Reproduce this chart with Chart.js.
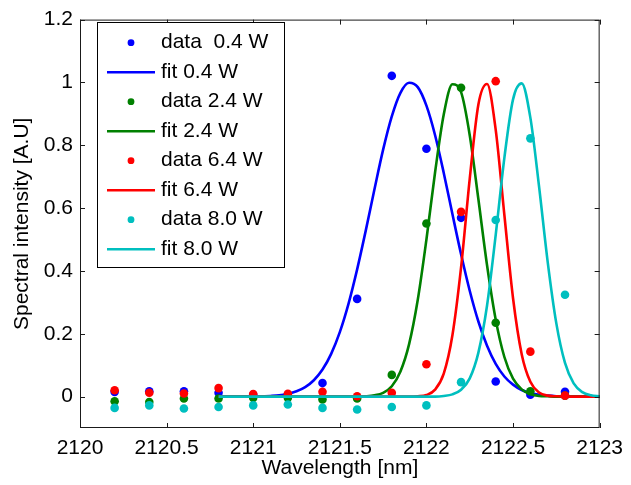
<!DOCTYPE html>
<html lang="en">
<head>
<meta charset="UTF-8">
<title>Spectral intensity</title>
<script src="https://cdn.jsdelivr.net/npm/chart.js@4/dist/chart.umd.min.js"></script>
<style>
  body { margin: 0; background: #fff; }
  #wrap { width: 631px; height: 485px; }
</style>
</head>
<body>
<div id="wrap"><canvas id="spectra" width="631" height="485"></canvas></div>
<script>
// measured spectra, one sample every 0.2 nm
const wavelength = [2120.2, 2120.4, 2120.6, 2120.8, 2121.0, 2121.2, 2121.4, 2121.6, 2121.8, 2122.0, 2122.2, 2122.4, 2122.6, 2122.8];
const data04 = [0.015, 0.017, 0.017, 0.012, 0.006, 0.006, 0.043, 0.311, 1.021, 0.789, 0.569, 0.048, 0.006, 0.015];
const data24 = [-0.015, -0.017, -0.006, -0.006, -0.004, -0.004, -0.009, -0.006, 0.069, 0.551, 0.983, 0.235, 0.017, 0.003];
const data64 = [0.020, 0.012, 0.010, 0.027, 0.008, 0.009, 0.015, 0.001, 0.012, 0.103, 0.588, 1.004, 0.143, 0.003];
const data80 = [-0.036, -0.028, -0.038, -0.033, -0.028, -0.025, -0.036, -0.041, -0.033, -0.028, 0.046, 0.562, 0.822, 0.324];

// fitted line shapes, sampled every 0.05 nm
const fitWavelength = [
  2120.80, 2120.85, 2120.90, 2120.95, 2121.00, 2121.05, 2121.10, 2121.15, 2121.20, 2121.25,
  2121.30, 2121.35, 2121.40, 2121.45, 2121.50, 2121.55, 2121.60, 2121.65, 2121.70, 2121.75,
  2121.80, 2121.85, 2121.90, 2121.95, 2122.00, 2122.05, 2122.10, 2122.15, 2122.20, 2122.25,
  2122.30, 2122.35, 2122.40, 2122.45, 2122.50, 2122.55, 2122.60, 2122.65, 2122.70, 2122.75,
  2122.80, 2122.85, 2122.90, 2122.95, 2123.00
];
const fit04 = [
  0, 0, 0, 0, 0, 0.001, 0.002, 0.004, 0.009, 0.017,
  0.030, 0.052, 0.086, 0.136, 0.205, 0.295, 0.405, 0.529, 0.660, 0.786,
  0.892, 0.967, 0.999, 0.985, 0.926, 0.832, 0.712, 0.581, 0.453, 0.337,
  0.239, 0.162, 0.104, 0.064, 0.038, 0.021, 0.011, 0.006, 0.003, 0.001,
  0, 0, 0, 0, 0
];
const fit24 = [
  0, 0, 0, 0, 0, 0, 0, 0, 0, 0,
  0, 0, 0, 0, 0, 0, 0, 0.001, 0.004, 0.012,
  0.033, 0.080, 0.167, 0.308, 0.500, 0.714, 0.898, 0.994, 0.969, 0.832,
  0.628, 0.418, 0.245, 0.126, 0.057, 0.023, 0.008, 0.002, 0.001, 0,
  0, 0, 0, 0, 0
];
const fit64 = [
  0, 0, 0, 0, 0, 0, 0, 0, 0, 0,
  0, 0, 0, 0, 0, 0, 0, 0, 0, 0,
  0, 0, 0, 0.001, 0.005, 0.022, 0.073, 0.195, 0.411, 0.693,
  0.930, 0.995, 0.849, 0.578, 0.313, 0.135, 0.047, 0.013, 0.003, 0.001,
  0, 0, 0, 0, 0
];
const fit80 = [
  0, 0, 0, 0, 0, 0, 0, 0, 0, 0,
  0, 0, 0, 0, 0, 0, 0, 0, 0, 0,
  0, 0, 0, 0, 0, 0, 0.002, 0.007, 0.022, 0.058,
  0.140, 0.290, 0.515, 0.760, 0.946, 0.997, 0.888, 0.670, 0.429, 0.233,
  0.107, 0.042, 0.014, 0.004, 0.001
];

const powers = ['0.4 W', '2.4 W', '6.4 W', '8.0 W'];
const dataLabels = ['data  0.4 W', 'data 2.4 W', 'data 6.4 W', 'data 8.0 W'];
const colors = ['#0000ff', '#008000', '#ff0000', '#00bfbf'];
const measured = [data04, data24, data64, data80];
const fitted = [fit04, fit24, fit64, fit80];

const xTicks = [2120, 2120.5, 2121, 2121.5, 2122, 2122.5, 2123];
const yTicks = [0, 0.2, 0.4, 0.6, 0.8, 1, 1.2];

const FONT = '"Liberation Sans", Arial, Helvetica, sans-serif';

const datasets = [];
powers.forEach((p, i) => {
  datasets.push({
    label: dataLabels[i],
    data: wavelength.map((x, k) => ({ x, y: measured[i][k] })),
    showLine: false,
    pointRadius: 4.3,
    pointBorderWidth: 0,
    backgroundColor: colors[i],
    borderColor: colors[i]
  });
  datasets.push({
    label: 'fit ' + p,
    data: fitWavelength.map((x, k) => ({ x, y: fitted[i][k] })),
    showLine: true,
    pointRadius: 0,
    borderWidth: 2.6,
    borderColor: colors[i],
    backgroundColor: colors[i],
    cubicInterpolationMode: 'monotone',
    fill: false
  });
});
// later series sit on top of earlier ones
datasets.forEach((ds, i) => { ds.order = datasets.length - i; });

// box around the axes with inward ticks, plus the legend
const axesBox = {
  id: 'axesBox',
  afterDraw(chart) {
    const { ctx, chartArea: a, scales } = chart;
    const tick = 5;
    ctx.save();
    ctx.strokeStyle = '#1a1a1a';
    ctx.lineWidth = 1;
    ctx.strokeRect(a.left + 0.5, a.top + 0.5, a.right - a.left - 1, a.bottom - a.top - 1);
    ctx.beginPath();
    xTicks.forEach(v => {
      const x = Math.round(scales.x.getPixelForValue(v)) + 0.5;
      ctx.moveTo(x, a.bottom); ctx.lineTo(x, a.bottom - tick);
      ctx.moveTo(x, a.top); ctx.lineTo(x, a.top + tick);
    });
    yTicks.forEach(v => {
      const y = Math.round(scales.y.getPixelForValue(v)) + 0.5;
      ctx.moveTo(a.left, y); ctx.lineTo(a.left + tick, y);
      ctx.moveTo(a.right, y); ctx.lineTo(a.right - tick, y);
    });
    ctx.stroke();

    // legend
    const lx = 97.5, ly = 22.5, lw = 187, lh = 245;
    ctx.fillStyle = '#fff';
    ctx.fillRect(lx, ly, lw, lh);
    ctx.strokeStyle = '#000';
    ctx.strokeRect(lx, ly, lw, lh);
    ctx.font = '21px ' + FONT;
    ctx.textBaseline = 'middle';
    ctx.textAlign = 'left';
    chart.data.datasets.forEach((ds, i) => {
      const y = 42.7 + 29.5 * i;
      if (ds.showLine) {
        ctx.strokeStyle = ds.borderColor;
        ctx.lineWidth = 2.6;
        ctx.beginPath();
        ctx.moveTo(107, y); ctx.lineTo(155, y);
        ctx.stroke();
      } else {
        ctx.fillStyle = ds.backgroundColor;
        ctx.beginPath();
        ctx.arc(131, y, 3.4, 0, Math.PI * 2);
        ctx.fill();
      }
      ctx.fillStyle = '#000';
      ctx.fillText(ds.label, 161, y);
    });
    ctx.restore();
  }
};

Chart.defaults.font.family = FONT;
Chart.defaults.font.size = 21;
Chart.defaults.color = '#000';

new Chart(document.getElementById('spectra'), {
  type: 'scatter',
  data: { datasets },
  options: {
    responsive: false,
    animation: false,
    events: [],
    layout: { padding: { top: 15, right: 26, left: 0, bottom: 0 } },
    plugins: { legend: { display: false }, tooltip: { enabled: false } },
    scales: {
      x: {
        type: 'linear',
        min: 2120,
        max: 2123,
        grid: { display: false, drawTicks: false },
        border: { display: false },
        afterBuildTicks: s => { s.ticks = xTicks.map(value => ({ value })); },
        afterFit: s => { s.height = 57; },
        ticks: { padding: 8, maxRotation: 0, autoSkip: false, callback: v => String(v) },
        title: { display: true, text: 'Wavelength [nm]', padding: { top: 0, bottom: 4 } }
      },
      y: {
        type: 'linear',
        min: -0.1,
        max: 1.2,
        grid: { display: false, drawTicks: false },
        border: { display: false },
        afterBuildTicks: s => { s.ticks = yTicks.map(value => ({ value })); },
        afterFit: s => { s.width = 80; },
        ticks: { padding: 7, autoSkip: false, callback: v => String(v) },
        title: { display: true, text: 'Spectral intensity [A.U]', padding: { top: 10, bottom: 0 } }
      }
    }
  },
  plugins: [axesBox]
});
</script>
</body>
</html>
